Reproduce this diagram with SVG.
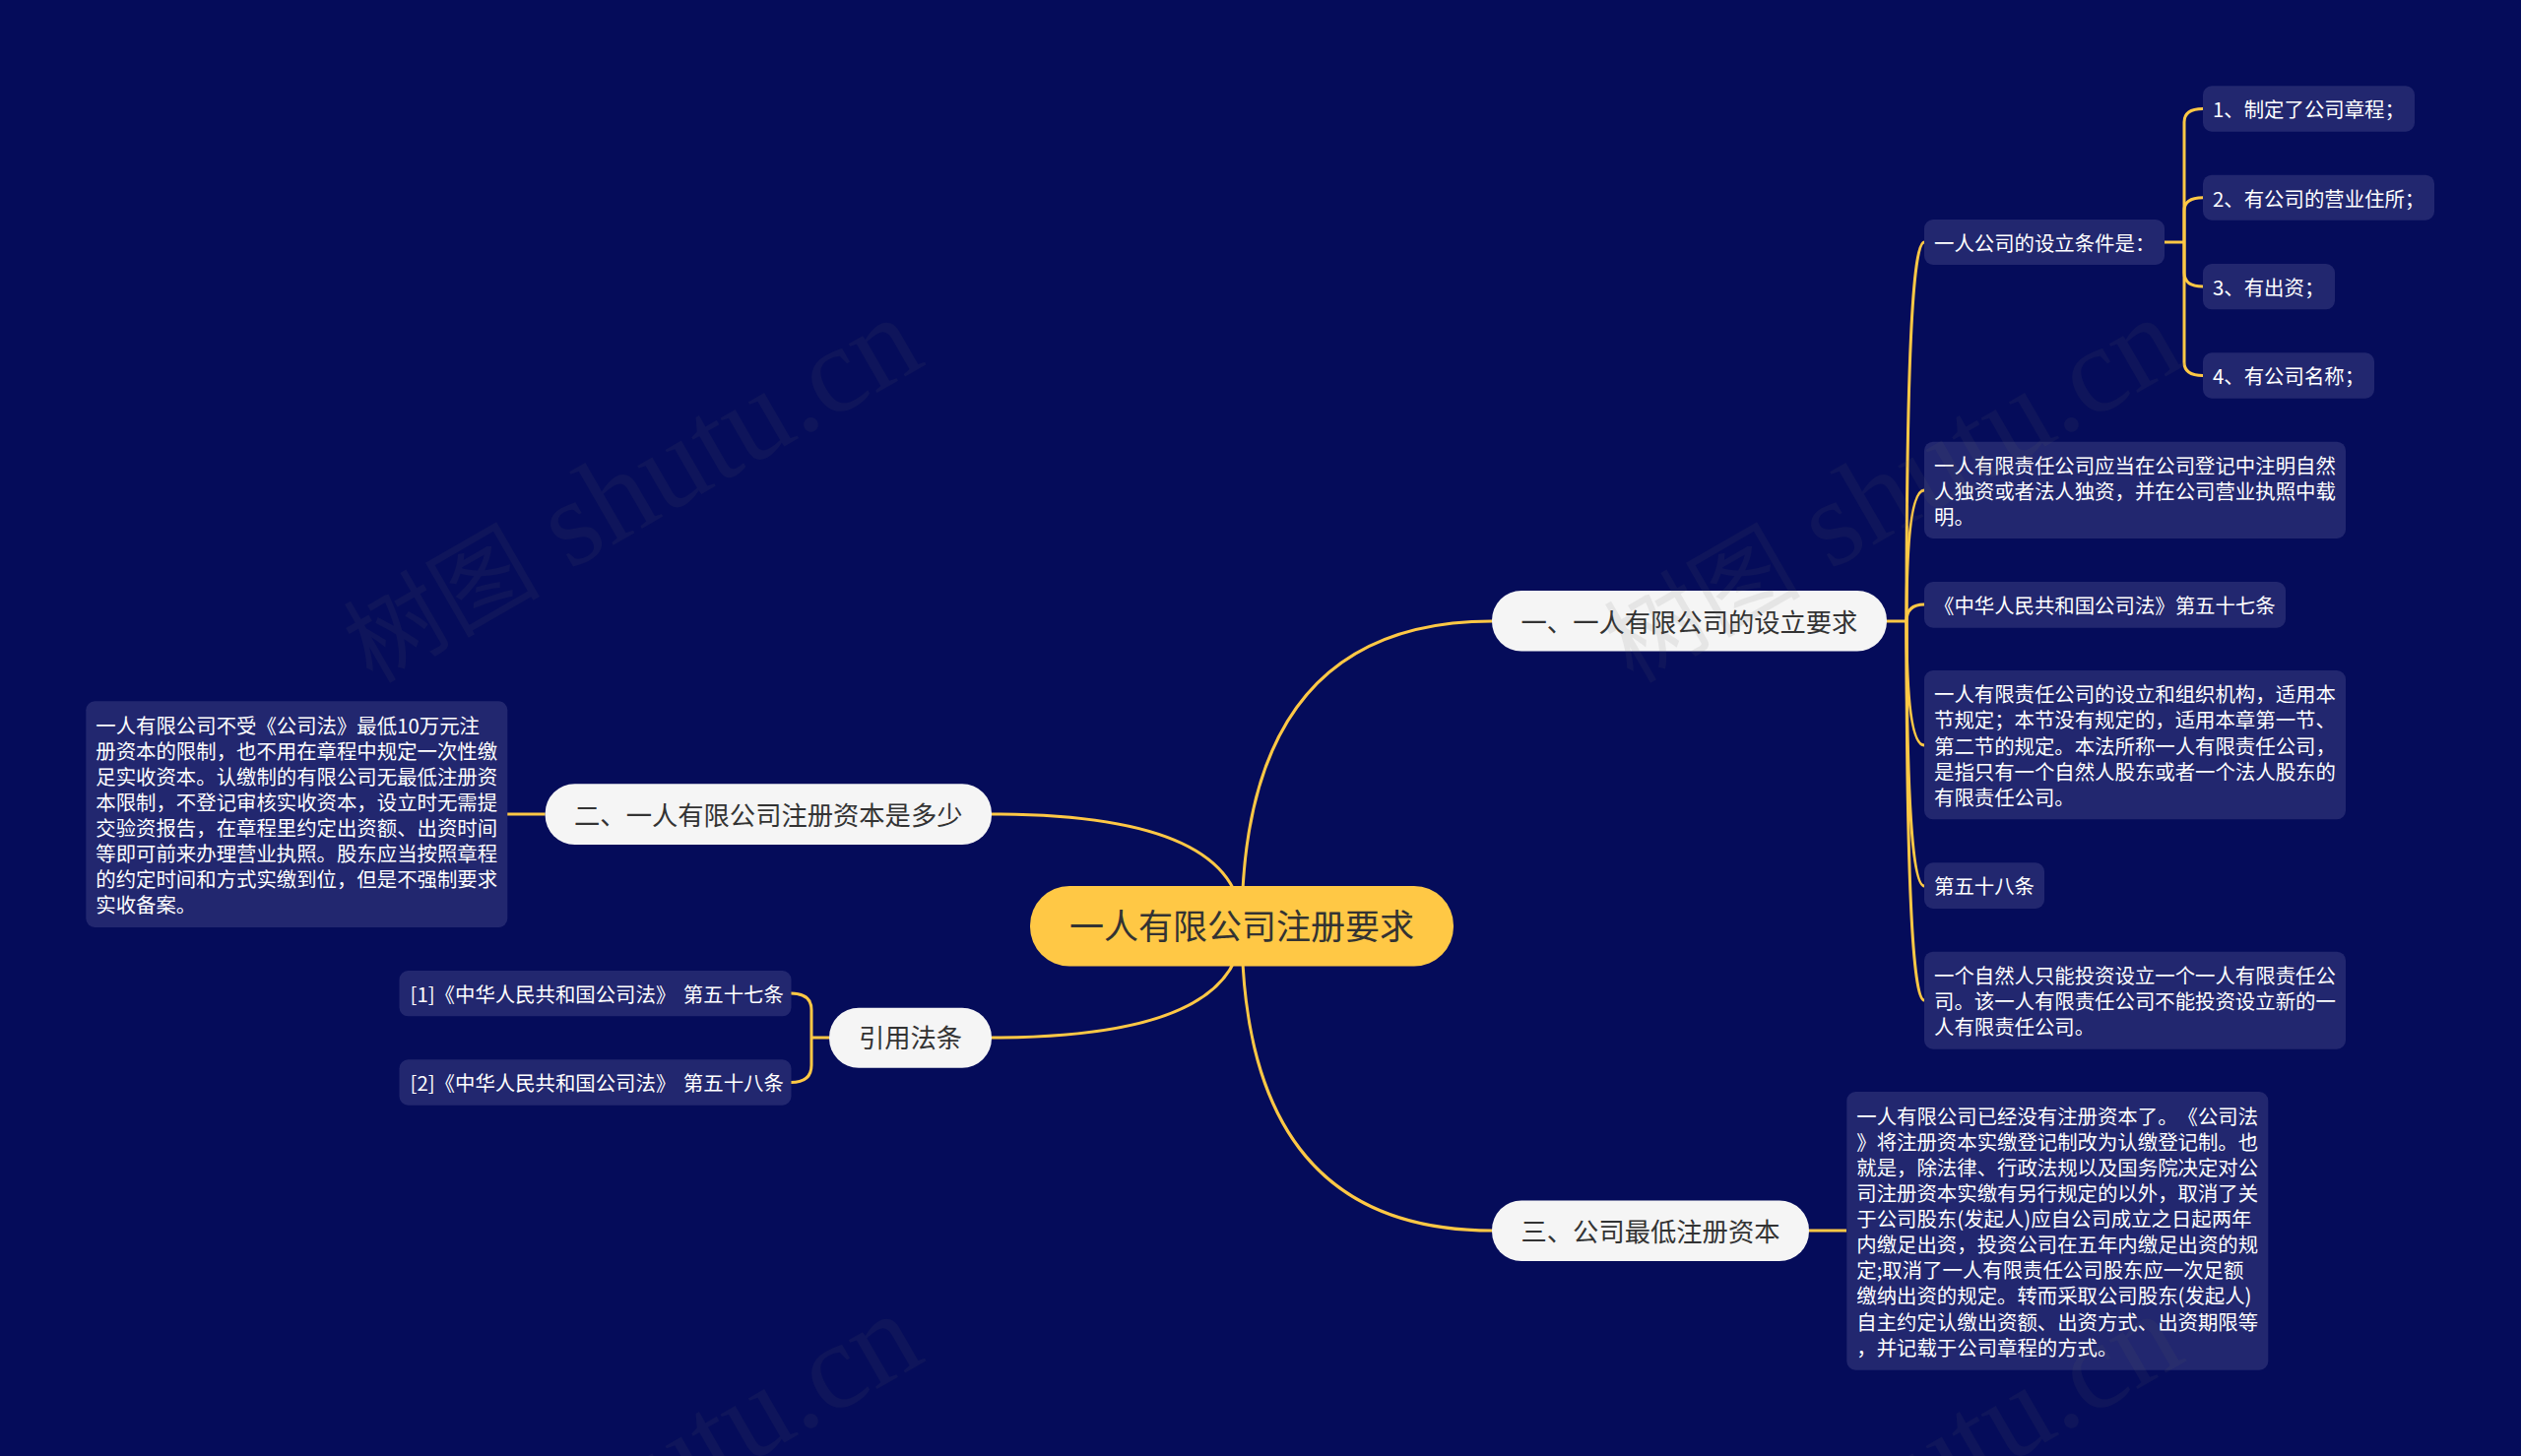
<svg xmlns="http://www.w3.org/2000/svg" width="2560" height="1479" viewBox="0 0 2560 1479">
<style>
text{font-family:"Noto Sans CJK SC","Noto Sans",sans-serif;text-spacing-trim:space-all}
.c{fill:none;stroke:#ffc845;stroke-width:3}
.leaf rect{fill:#22276f}
.leaf text{fill:#fff;font-size:20.4px}
.leaf text.ref{word-spacing:3px}
.pill rect{fill:#f5f5f5}
.pill text{fill:#333;font-size:26.3px;text-anchor:middle}
.root rect{fill:#ffc845}
.root text{fill:#333;font-size:35px;text-anchor:middle}
.wm{font-family:"Liberation Serif","Noto Sans CJK SC",serif;font-size:100px;fill:#646464;opacity:.1}
.wm tspan{font-size:125px}
</style>
<rect width="2560" height="1479" fill="#050c5a"/>
<g id="connectors">
<path class="c" d="M1261 941Q1261 631 1515 631"/>
<path class="c" d="M1261 941Q1261 827 1007 827"/>
<path class="c" d="M1261 941Q1261 1054 1007 1054"/>
<path class="c" d="M1261 941Q1261 1250 1515 1250"/>
<path class="c" d="M1916 631H1936"/>
<path class="c" d="M1936 631Q1936 246 1954 246"/>
<path class="c" d="M1936 631Q1936 498 1954 498"/>
<path class="c" d="M1936 631Q1936 614 1954 614"/>
<path class="c" d="M1936 631Q1936 757 1954 757"/>
<path class="c" d="M1936 631Q1936 900 1954 900"/>
<path class="c" d="M1936 631Q1936 1016 1954 1016"/>
<path class="c" d="M2198 246H2218"/>
<path class="c" d="M2218 246V124Q2218 110.500 2237 110.500"/>
<path class="c" d="M2218 246V214Q2218 200.700 2237 200.700"/>
<path class="c" d="M2218 246V277Q2218 291 2237 291"/>
<path class="c" d="M2218 246V368Q2218 381.500 2237 381.500"/>
<path class="c" d="M553.600 827H515"/>
<path class="c" d="M842 1054H824"/>
<path class="c" d="M824 1054V1026Q824 1009 803 1009"/>
<path class="c" d="M824 1054V1082Q824 1099.500 803 1099.500"/>
<path class="c" d="M1837 1250H1875"/>
</g>
<g id="root" class="root"><rect x="1046" y="900" width="430" height="81.500" rx="40"/><text x="1261" y="953.500">一人有限公司注册要求</text></g>
<g id="b1" class="pill"><rect x="1515" y="600" width="401" height="61.500" rx="30"/><text x="1715.500" y="641.500">一、一人有限公司的设立要求</text></g>
<g id="b2" class="pill"><rect x="553.600" y="796.300" width="453.400" height="61.700" rx="30"/><text x="780.300" y="837.500">二、一人有限公司注册资本是多少</text></g>
<g id="b3" class="pill"><rect x="1515" y="1219.500" width="322" height="61.500" rx="30"/><text x="1676" y="1260.500">三、公司最低注册资本</text></g>
<g id="b4" class="pill"><rect x="842" y="1023.700" width="165" height="61" rx="30"/><text x="924.500" y="1064">引用法条</text></g>
<g id="n1" class="leaf"><rect x="1954" y="223" width="244" height="46" rx="9"/><text x="1964" y="254.500">一人公司的设立条件是：</text></g>
<g id="n11" class="leaf"><rect x="2237" y="87.300" width="215" height="46.400" rx="9"/><text x="2247" y="119">1、制定了公司章程；</text></g>
<g id="n12" class="leaf"><rect x="2237" y="177.700" width="235" height="46" rx="9"/><text x="2247" y="209.500">2、有公司的营业住所；</text></g>
<g id="n13" class="leaf"><rect x="2237" y="268" width="134" height="46.300" rx="9"/><text x="2247" y="299.700">3、有出资；</text></g>
<g id="n14" class="leaf"><rect x="2237" y="358.300" width="174" height="46.400" rx="9"/><text x="2247" y="390">4、有公司名称；</text></g>
<g id="n2" class="leaf"><rect x="1954" y="448.700" width="428" height="98.300" rx="9"/><text y="480.600"><tspan x="1964">一人有限责任公司应当在公司登记中注明自然</tspan><tspan x="1964" dy="26.100">人独资或者法人独资，并在公司营业执照中载</tspan><tspan x="1964" dy="26.100">明。</tspan></text></g>
<g id="n3" class="leaf"><rect x="1954" y="591" width="367" height="46.700" rx="9"/><text x="1964" y="622.800">《中华人民共和国公司法》第五十七条</text></g>
<g id="n4" class="leaf"><rect x="1954" y="681" width="428" height="151.300" rx="9"/><text y="713.300"><tspan x="1964">一人有限责任公司的设立和组织机构，适用本</tspan><tspan x="1964" dy="26.100">节规定；本节没有规定的，适用本章第一节、</tspan><tspan x="1964" dy="26.100">第二节的规定。本法所称一人有限责任公司，</tspan><tspan x="1964" dy="26.100">是指只有一个自然人股东或者一个法人股东的</tspan><tspan x="1964" dy="26.100">有限责任公司。</tspan></text></g>
<g id="n5" class="leaf"><rect x="1954" y="876.300" width="122" height="46.700" rx="9"/><text x="1964" y="908.200">第五十八条</text></g>
<g id="n6" class="leaf"><rect x="1954" y="966.700" width="428" height="99" rx="9"/><text y="998.900"><tspan x="1964">一个自然人只能投资设立一个一人有限责任公</tspan><tspan x="1964" dy="26.100">司。该一人有限责任公司不能投资设立新的一</tspan><tspan x="1964" dy="26.100">人有限责任公司。</tspan></text></g>
<g id="n7" class="leaf"><rect x="1875.300" y="1109" width="428" height="282.700" rx="9"/><text y="1141.700"><tspan x="1885.300">一人有限公司已经没有注册资本了。《公司法</tspan><tspan x="1885.300" dy="26.100">》将注册资本实缴登记制改为认缴登记制。也</tspan><tspan x="1885.300" dy="26.100">就是，除法律、行政法规以及国务院决定对公</tspan><tspan x="1885.300" dy="26.100">司注册资本实缴有另行规定的以外，取消了关</tspan><tspan x="1885.300" dy="26.100">于公司股东(发起人)应自公司成立之日起两年</tspan><tspan x="1885.300" dy="26.100">内缴足出资，投资公司在五年内缴足出资的规</tspan><tspan x="1885.300" dy="26.100">定;取消了一人有限责任公司股东应一次足额</tspan><tspan x="1885.300" dy="26.100">缴纳出资的规定。转而采取公司股东(发起人)</tspan><tspan x="1885.300" dy="26.100">自主约定认缴出资额、出资方式、出资期限等</tspan><tspan x="1885.300" dy="26.100">，并记载于公司章程的方式。</tspan></text></g>
<g id="n8" class="leaf"><rect x="87.300" y="712.300" width="428" height="229.700" rx="9"/><text y="744.500"><tspan x="97.300">一人有限公司不受《公司法》最低10万元注</tspan><tspan x="97.300" dy="26.100">册资本的限制，也不用在章程中规定一次性缴</tspan><tspan x="97.300" dy="26.100">足实收资本。认缴制的有限公司无最低注册资</tspan><tspan x="97.300" dy="26.100">本限制，不登记审核实收资本，设立时无需提</tspan><tspan x="97.300" dy="26.100">交验资报告，在章程里约定出资额、出资时间</tspan><tspan x="97.300" dy="26.100">等即可前来办理营业执照。股东应当按照章程</tspan><tspan x="97.300" dy="26.100">的约定时间和方式实缴到位，但是不强制要求</tspan><tspan x="97.300" dy="26.100">实收备案。</tspan></text></g>
<g id="n9" class="leaf"><rect x="405.500" y="986" width="398" height="46.300" rx="9"/><text class="ref" x="416.500" y="1017.700">[1]《中华人民共和国公司法》 第五十七条</text></g>
<g id="n10" class="leaf"><rect x="405.500" y="1076.300" width="398" height="46.400" rx="9"/><text class="ref" x="416.500" y="1108">[2]《中华人民共和国公司法》 第五十八条</text></g>
<g id="watermarks">
<text class="wm" transform="translate(378 695) rotate(-30)">树图<tspan> shutu.cn</tspan></text>
<text class="wm" transform="translate(1658 695) rotate(-30)">树图<tspan> shutu.cn</tspan></text>
<text class="wm" transform="translate(378 1707) rotate(-30)">树图<tspan> shutu.cn</tspan></text>
<text class="wm" transform="translate(1658 1707) rotate(-30)">树图<tspan> shutu.cn</tspan></text>
</g>
</svg>
